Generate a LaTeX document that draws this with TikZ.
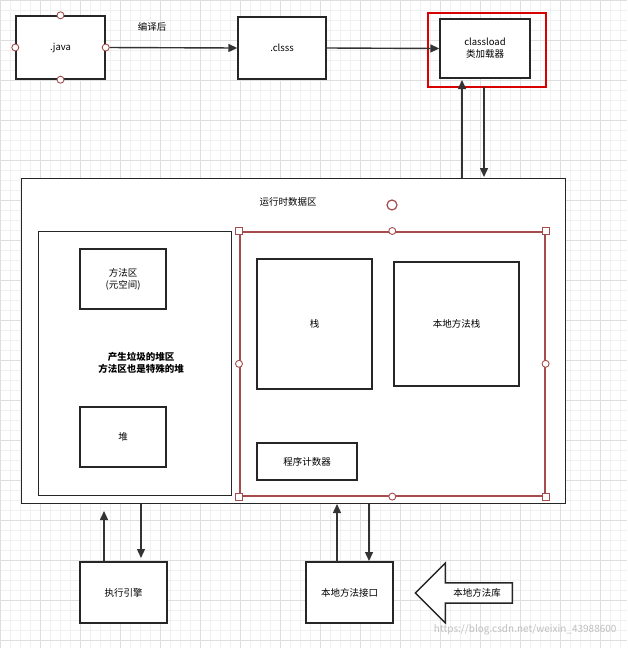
\documentclass[tikz,border=0pt]{standalone}
\usepackage{fontspec}
\setmainfont{Noto Sans CJK SC}
\usetikzlibrary{arrows.meta,shapes.arrows}
\begin{document}
\begin{tikzpicture}[x=1pt,y=-1pt,
  box/.style={draw=black!85,line width=1.4pt,fill=white,align=center,font=\fontsize{9.5}{12}\selectfont},
  arr/.style={-{Triangle[length=9pt,width=8pt]},line width=1.4pt,black!80},
  hc/.style={circle,draw=black!50!red!70,line width=0.9pt,fill=white,inner sep=0pt,minimum size=7pt},
  hs/.style={rectangle,draw=black!50!red!70,line width=0.9pt,fill=white,inner sep=0pt,minimum size=7pt},
  lbl/.style={font=\fontsize{9.5}{12}\selectfont,align=center}]
\useasboundingbox (0,0) rectangle (627,648);
\fill[white] (0,0) rectangle (627,648);
\foreach \i in {0,10,...,640} {\draw[black!6,line width=0.5pt] (\i,0) -- (\i,648); \draw[black!6,line width=0.5pt] (0,\i) -- (627,\i);}
\foreach \i in {0,40,...,640} {\draw[black!13,line width=0.6pt] (\i,0) -- (\i,648); \draw[black!13,line width=0.6pt] (0,\i) -- (627,\i);}
% top row
\node[box,minimum width=89,minimum height=63] (java) at (60.5,47.5) {.java};
\node[hc] (jt) at (java.north) {};
\node[hc] (jl) at (java.west) {};
\node[hc] (jr) at (java.east) {};
\node[hc] (jb) at (java.south) {};
\node[lbl] (bt) at (152,27) {编译后};
\node[box,minimum width=88,minimum height=62] (cls) at (282,48) {.clsss};
\node[box,minimum width=90,minimum height=59] (cl) at (485,48.5) {classload\\类加载器};
\node[draw=red!85!black,line width=1.4pt,minimum width=118,minimum height=74,inner sep=0] (red) at (487,50) {};
\draw[arr] (jr) -- (cls.west);
\draw[arr] (cls.east) -- (cl.west);
% runtime area
\node[box,minimum width=544,minimum height=325,anchor=north west] (rt) at (21,178) {};
\node[lbl] (rtt) at (288,202) {运行时数据区};
\draw[arr] (462,178) -- (462,80);
\draw[arr] (484,87) -- (484,177);
% left box
\node[box,minimum width=193,minimum height=264,anchor=north west] (heap) at (38,231) {};
\node[box,minimum width=86,minimum height=60] (ma) at (123,279) {方法区\\(元空间)};
\node[lbl,font=\fontsize{9.5}{12}\selectfont\bfseries] (ht) at (141,363) {产生垃圾的堆区\\方法区也是特殊的堆};
\node[box,minimum width=86,minimum height=60] (dui) at (123,437) {堆};
% selection box
\node[draw=black!50!red!70,line width=1.6pt,minimum width=305,minimum height=264,anchor=north west,inner sep=0] (sel) at (239,231) {};
\node[box,minimum width=115,minimum height=130] (zhan) at (314.5,324) {栈};
\node[box,minimum width=125,minimum height=124] (bdz) at (456.5,324) {本地方法栈};
\node[box,minimum width=100,minimum height=37] (pc) at (307,461.5) {程序计数器};
\foreach \a in {north west,north east,south west,south east} \node[hs] at (sel.\a) {};
\foreach \a in {north,south,east,west} \node[hc] at (sel.\a) {};
\node[hc,minimum size=10pt,line width=1.2pt] (rot) at (392,205) {};
% bottom
\node[box,minimum width=87,minimum height=61] (eng) at (123.5,592.5) {执行引擎};
\draw[arr] (104,562) -- (104,511);
\draw[arr] (141,504) -- (141,558);
\node[box,minimum width=87,minimum height=61] (jni) at (349.5,592.5) {本地方法接口};
\draw[arr] (337,562) -- (337,504);
\draw[arr] (369,504) -- (369,561);
\node[single arrow,shape border rotate=180,draw=black!85,line width=1.4pt,fill=white,minimum height=97,minimum width=60,single arrow head extend=12pt,single arrow tip angle=90,inner sep=1pt,font=\fontsize{9.5}{12}\selectfont] (lib) at (469,593) {\hspace{16pt}本地方法库};
\node[text=black!25,font=\fontsize{10}{12}\selectfont,anchor=east] (wm) at (620,630) {https://blog.csdn.net/weixin\_43988600};
\end{tikzpicture}
\end{document}
